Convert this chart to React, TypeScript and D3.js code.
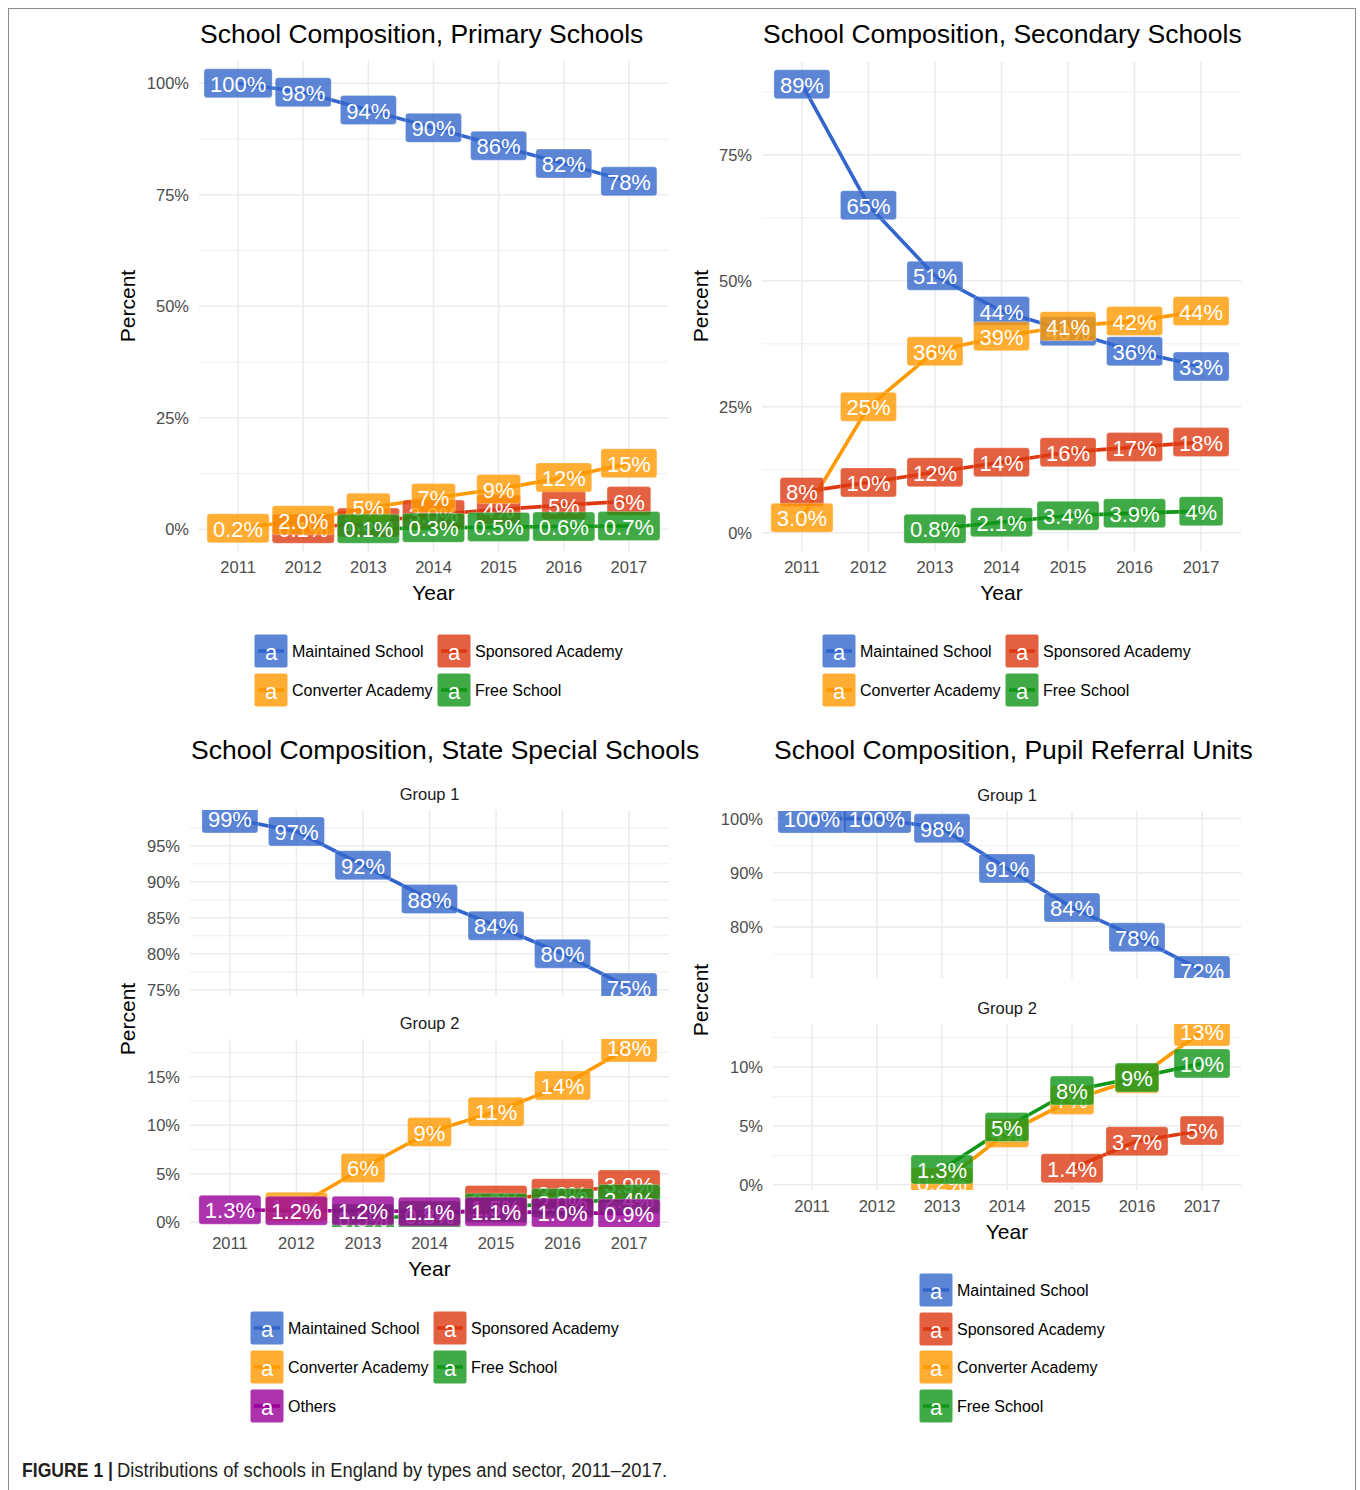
import React from "react";
import * as d3 from "d3";

const YEARS = [2011, 2012, 2013, 2014, 2015, 2016, 2017];
const SERIES_NAMES = ["Maintained School", "Sponsored Academy", "Converter Academy", "Free School", "Others"];
const SERIES_COLORS = ["#3366CC", "#DC3912", "#FF9900", "#109618", "#990099"];

// ---- Primary schools
const primaryMaintained = [100, 98, 94, 90, 86, 82, 78];
const primaryMaintainedLabels = ["100%", "98%", "94%", "90%", "86%", "82%", "78%"];
const primarySponsored = [null, 0.1, 1.5, 3.3, 4.4, 5.4, 6.3];
const primarySponsoredLabels = [null, "0.1%", "1.5%", "3.0%", "4%", "5%", "6%"];
const primaryConverter = [0.2, 2.0, 4.8, 7.0, 9.0, 11.6, 14.8];
const primaryConverterLabels = ["0.2%", "2.0%", "5%", "7%", "9%", "12%", "15%"];
const primaryFree = [null, null, 0.1, 0.3, 0.5, 0.6, 0.7];
const primaryFreeLabels = [null, null, "0.1%", "0.3%", "0.5%", "0.6%", "0.7%"];
const primaryTicks = [0, 25, 50, 75, 100];

// ---- Secondary schools
const secondaryMaintained = [89, 65, 51, 44, 40, 36, 33];
const secondaryMaintainedLabels = ["89%", "65%", "51%", "44%", "40%", "36%", "33%"];
const secondarySponsored = [8.1, 10, 12, 14, 16, 17, 18];
const secondarySponsoredLabels = ["8%", "10%", "12%", "14%", "16%", "17%", "18%"];
const secondaryConverter = [3.0, 25, 36, 39, 41, 42, 44];
const secondaryConverterLabels = ["3.0%", "25%", "36%", "39%", "41%", "42%", "44%"];
const secondaryFree = [null, null, 0.8, 2.1, 3.4, 3.9, 4.3];
const secondaryFreeLabels = [null, null, "0.8%", "2.1%", "3.4%", "3.9%", "4%"];
const secondaryTicks = [0, 25, 50, 75];

// ---- State special schools
const specialMaintained = [98.8, 97, 92.3, 87.6, 83.9, 80, 75.3];
const specialMaintainedLabels = ["99%", "97%", "92%", "88%", "84%", "80%", "75%"];
const specialSponsored = [null, null, null, null, 2.3, 3.0, 3.9];
const specialSponsoredLabels = [null, null, null, null, "2.3%", "3.0%", "3.9%"];
const specialConverter = [null, 1.6, 5.6, 9.3, 11.4, 14.1, 18];
const specialConverterLabels = [null, "1.6%", "6%", "9%", "11%", "14%", "18%"];
const specialFree = [null, null, 0.4, 0.7, 1.5, 2.0, 2.4];
const specialFreeLabels = [null, null, "0.5%", "0.8%", "1.5%", "2.0%", "2.4%"];
const specialOthers = [1.3, 1.2, 1.2, 1.1, 1.1, 1.0, 0.9];
const specialOthersLabels = ["1.3%", "1.2%", "1.2%", "1.1%", "1.1%", "1.0%", "0.9%"];
const specialTicks1 = [75, 80, 85, 90, 95];
const specialTicks2 = [0, 5, 10, 15];

// ---- Pupil referral units
const pruMaintained = [100, 100, 98.2, 90.8, 83.6, 78.1, 72];
const pruMaintainedLabels = ["100%", "100%", "98%", "91%", "84%", "78%", "72%"];
const pruSponsored = [null, null, null, null, 1.4, 3.7, 4.6];
const pruSponsoredLabels = [null, null, null, null, "1.4%", "3.7%", "5%"];
const pruConverter = [null, null, 0.2, 4.4, 7.2, 9.0, 13];
const pruConverterLabels = [null, null, "0.2%", "4%", "7%", "9%", "13%"];
const pruFree = [null, null, 1.3, 4.9, 8.0, 9.1, 10.3];
const pruFreeLabels = [null, null, "1.3%", "5%", "8%", "9%", "10%"];
const pruTicks1 = [80, 90, 100];
const pruTicks2 = [0, 5, 10];

type Series = { color: string; values: (number | null)[]; labels: (string | null)[] };

const FONT = "'Liberation Sans', Arial, Helvetica, sans-serif";
const GRID = "#ebebeb";
const TICK_COLOR = "#4d4d4d";
const LABEL_FS = 22;

const CHAR_W: Record<string, number> = { ".": 0.278, "%": 0.889 };
function labelWidth(s: string) {
  let w = 0;
  for (const c of s) w += CHAR_W[c] ?? 0.556;
  return w * LABEL_FS + 12;
}

function Facet(props: {
  id: string;
  x0: number;
  x1: number;
  y0: number;
  y1: number;
  series: Series[];
  ticks: number[];
  strip?: string;
  xAxis: boolean;
}) {
  const { id, x0, x1, y0, y1, series, ticks, strip, xAxis } = props;
  const x = d3.scalePoint<number>().domain(YEARS).range([x0, x1]).padding(0.6);
  const all = series.flatMap((s) => s.values.filter((v): v is number => v != null));
  const lo = d3.min(all)!;
  const hi = d3.max(all)!;
  const pad = (hi - lo) * 0.05;
  const y = d3.scaleLinear().domain([lo - pad, hi + pad]).range([y1, y0]);
  const [dlo, dhi] = y.domain();
  const step = ticks[1] - ticks[0];
  const minors = [ticks[0] - step, ...ticks].map((t) => t + step / 2).filter((t) => t >= dlo && t <= dhi);
  const majors = ticks.filter((t) => t >= dlo && t <= dhi);
  const line = d3
    .line<number | null>()
    .defined((v) => v != null)
    .x((_, i) => x(YEARS[i])!)
    .y((v) => y(v as number));
  const cx = (x0 + x1) / 2;
  return (
    <g>
      <defs>
        <clipPath id={id}>
          <rect x={x0} y={y0} width={x1 - x0} height={y1 - y0} />
        </clipPath>
      </defs>
      {minors.map((t) => (
        <line key={"mi" + t} x1={x0} x2={x1} y1={y(t)} y2={y(t)} stroke={GRID} strokeWidth={0.8} />
      ))}
      {majors.map((t) => (
        <line key={"ma" + t} x1={x0} x2={x1} y1={y(t)} y2={y(t)} stroke={GRID} strokeWidth={1.5} />
      ))}
      {YEARS.map((yr) => (
        <line key={"v" + yr} x1={x(yr)} x2={x(yr)} y1={y0} y2={y1} stroke={GRID} strokeWidth={1.5} />
      ))}
      <g clipPath={`url(#${id})`}>
        {series.map((s, i) => (
          <path
            key={"l" + i}
            d={line(s.values) || ""}
            fill="none"
            stroke={s.color}
            strokeWidth={3.6}
            strokeLinejoin="round"
          />
        ))}
        {series.map((s, i) =>
          s.values.map((v, j) => {
            if (v == null) return null;
            const lab = s.labels[j] || "";
            const w = labelWidth(lab);
            const h = 29;
            const px = x(YEARS[j])!;
            const py = y(v);
            return (
              <g key={"b" + i + "-" + j}>
                <rect
                  x={px - w / 2}
                  y={py - h / 2}
                  width={w}
                  height={h}
                  rx={3}
                  fill={s.color}
                  fillOpacity={0.8}
                  stroke="#ffffff"
                  strokeOpacity={0.5}
                  strokeWidth={0.6}
                />
                <text
                  x={px}
                  y={py + 1}
                  fill="#ffffff"
                  fontSize={LABEL_FS}
                  fontFamily={FONT}
                  textAnchor="middle"
                  dominantBaseline="central"
                >
                  {lab}
                </text>
              </g>
            );
          })
        )}
      </g>
      {majors.map((t) => (
        <text
          key={"yt" + t}
          x={x0 - 10}
          y={y(t)}
          fontSize={16.5}
          fill={TICK_COLOR}
          fontFamily={FONT}
          textAnchor="end"
          dominantBaseline="central"
        >
          {t + "%"}
        </text>
      ))}
      {xAxis &&
        YEARS.map((yr) => (
          <text
            key={"xt" + yr}
            x={x(yr)}
            y={y1 + 16}
            fontSize={16.5}
            fill={TICK_COLOR}
            fontFamily={FONT}
            textAnchor="middle"
            dominantBaseline="central"
          >
            {yr}
          </text>
        ))}
      {xAxis && (
        <text x={cx} y={y1 + 41} fontSize={21} fill="#000" fontFamily={FONT} textAnchor="middle" dominantBaseline="central">
          Year
        </text>
      )}
      {strip && (
        <text x={cx} y={y0 - 16} fontSize={16.5} fill="#1a1a1a" fontFamily={FONT} textAnchor="middle" dominantBaseline="central">
          {strip}
        </text>
      )}
    </g>
  );
}

function LegendItem(props: { x: number; y: number; idx: number }) {
  const { x, y, idx } = props;
  const color = SERIES_COLORS[idx];
  return (
    <g>
      <line x1={x + 4} x2={x + 30} y1={y + 17} y2={y + 17} stroke={color} strokeWidth={3.6} />
      <rect x={x + 0.5} y={y + 0.5} width={33} height={33} rx={2} fill={color} fillOpacity={0.8} />
      <text x={x + 17} y={y + 18} fill="#fff" fontSize={22} fontFamily={FONT} textAnchor="middle" dominantBaseline="central">
        a
      </text>
      <text x={x + 38} y={y + 17} fill="#000" fontSize={16} fontFamily={FONT} dominantBaseline="central">
        {SERIES_NAMES[idx]}
      </text>
    </g>
  );
}

function YTitle(props: { x: number; y: number }) {
  return (
    <text
      transform={`translate(${props.x},${props.y}) rotate(-90)`}
      fontSize={21}
      fill="#000"
      fontFamily={FONT}
      textAnchor="middle"
      dominantBaseline="central"
    >
      Percent
    </text>
  );
}

function Title(props: { x: number; y: number; text: string }) {
  return (
    <text x={props.x} y={props.y} fontSize={26.5} fill="#000" fontFamily={FONT} dominantBaseline="central">
      {props.text}
    </text>
  );
}

const mk = (idx: number, values: (number | null)[], labels: (string | null)[]): Series => ({
  color: SERIES_COLORS[idx],
  values,
  labels,
});

export default function App() {
  const primary = [
    mk(0, primaryMaintained, primaryMaintainedLabels),
    mk(1, primarySponsored, primarySponsoredLabels),
    mk(2, primaryConverter, primaryConverterLabels),
    mk(3, primaryFree, primaryFreeLabels),
  ];
  const secondary = [
    mk(0, secondaryMaintained, secondaryMaintainedLabels),
    mk(1, secondarySponsored, secondarySponsoredLabels),
    mk(2, secondaryConverter, secondaryConverterLabels),
    mk(3, secondaryFree, secondaryFreeLabels),
  ];
  const special1 = [mk(0, specialMaintained, specialMaintainedLabels)];
  const special2 = [
    mk(1, specialSponsored, specialSponsoredLabels),
    mk(2, specialConverter, specialConverterLabels),
    mk(3, specialFree, specialFreeLabels),
    mk(4, specialOthers, specialOthersLabels),
  ];
  const pru1 = [mk(0, pruMaintained, pruMaintainedLabels)];
  const pru2 = [
    mk(1, pruSponsored, pruSponsoredLabels),
    mk(2, pruConverter, pruConverterLabels),
    mk(3, pruFree, pruFreeLabels),
  ];

  return (
    <svg
      width={1360}
      height={1490}
      style={{ position: "absolute", left: 0, top: 0, background: "#fff" }}
      xmlns="http://www.w3.org/2000/svg"
    >
      <rect x={0} y={0} width={1360} height={1490} fill="#fff" />
      <rect x={8.5} y={8.5} width={1347} height={1500} fill="none" stroke="#8c8c8c" strokeWidth={1} />

      {/* Primary */}
      <Title x={200} y={34} text="School Composition, Primary Schools" />
      <Facet id="cp1" x0={199} x1={668} y0={61} y1={551} series={primary} ticks={primaryTicks} xAxis={true} />
      <YTitle x={127} y={306} />
      <LegendItem x={254} y={634} idx={0} />
      <LegendItem x={437} y={634} idx={1} />
      <LegendItem x={254} y={673} idx={2} />
      <LegendItem x={437} y={673} idx={3} />

      {/* Secondary */}
      <Title x={763} y={34} text="School Composition, Secondary Schools" />
      <Facet id="cp2" x0={762} x1={1241} y0={62} y1={551} series={secondary} ticks={secondaryTicks} xAxis={true} />
      <YTitle x={700} y={306} />
      <LegendItem x={822} y={634} idx={0} />
      <LegendItem x={1005} y={634} idx={1} />
      <LegendItem x={822} y={673} idx={2} />
      <LegendItem x={1005} y={673} idx={3} />

      {/* State special */}
      <Title x={191} y={750} text="School Composition, State Special Schools" />
      <Facet id="cp3" x0={190} x1={669} y0={810} y1={996} series={special1} ticks={specialTicks1} strip="Group 1" xAxis={false} />
      <Facet id="cp4" x0={190} x1={669} y0={1039} y1={1227} series={special2} ticks={specialTicks2} strip="Group 2" xAxis={true} />
      <YTitle x={127} y={1019} />
      <LegendItem x={250} y={1311} idx={0} />
      <LegendItem x={433} y={1311} idx={1} />
      <LegendItem x={250} y={1350} idx={2} />
      <LegendItem x={433} y={1350} idx={3} />
      <LegendItem x={250} y={1389} idx={4} />

      {/* Pupil referral units */}
      <Title x={774} y={750} text="School Composition, Pupil Referral Units" />
      <Facet id="cp5" x0={773} x1={1241} y0={811} y1={978} series={pru1} ticks={pruTicks1} strip="Group 1" xAxis={false} />
      <Facet id="cp6" x0={773} x1={1241} y0={1024} y1={1190} series={pru2} ticks={pruTicks2} strip="Group 2" xAxis={true} />
      <YTitle x={700} y={1000} />
      <LegendItem x={919} y={1273} idx={0} />
      <LegendItem x={919} y={1312} idx={1} />
      <LegendItem x={919} y={1350} idx={2} />
      <LegendItem x={919} y={1389} idx={3} />

      {/* Caption */}
      <text x={22} y={1477} fontSize={20} fontWeight="bold" fill="#231f20" fontFamily={FONT} textLength={91} lengthAdjust="spacingAndGlyphs">
        FIGURE 1 |
      </text>
      <text x={117} y={1477} fontSize={20} fill="#231f20" fontFamily={FONT} textLength={550} lengthAdjust="spacingAndGlyphs">
        Distributions of schools in England by types and sector, 2011–2017.
      </text>
    </svg>
  );
}
